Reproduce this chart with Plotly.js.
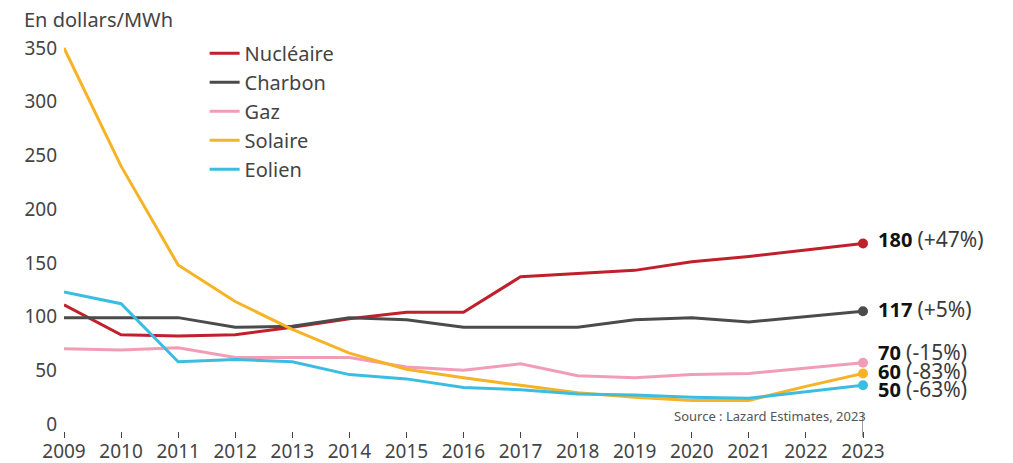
<!DOCTYPE html>
<html><head><meta charset="utf-8">
<script src="https://cdn.plot.ly/plotly-3.0.1.min.js"></script>
<style>html,body{margin:0;padding:0;background:#fff}#chart{width:1013px;height:463px}</style>
</head><body><div id="chart"></div>
<script>
const years = [2009,2010,2011,2012,2013,2014,2015,2016,2017,2018,2019,2020,2021,2022,2023];
const nucleaire = [111,83,82,83,90,98,104,104,137,140,143,151,156,162,168];
const charbon   = [99,99,99,90,91,99,97,90,90,90,97,99,95,100,105];
const gaz       = [70,69,71,62,62,62,53,50,56,45,43,46,47,52,57];
const solaire   = [350,240,148,114,88,66,51,43,36,29,25,22,22,35,47];
const eolien    = [123,112,58,60,58,46,42,34,32,28,27,25,24,30,36];
const seriesNames = ['Nucléaire','Charbon','Gaz','Solaire','Eolien'];
const endValues  = ['180','117','70','60','50'];
const endChanges = ['(+47%)','(+5%)','(-15%)','(-83%)','(-63%)'];

const colors = ['#c01f2b','#4b4b4b','#f29db6','#f6b325','#3bbde2'];
const labelShift = [5,2,11,3,-4];
const data = [nucleaire,charbon,gaz,solaire,eolien];
const traces = [];
data.forEach((ys,i)=>{
  traces.push({x:years,y:ys,type:'scatter',mode:'lines',name:seriesNames[i],
    line:{color:colors[i],width:3},hoverinfo:'skip'});
});
data.forEach((ys,i)=>{
  traces.push({x:[years[years.length-1]],y:[ys[ys.length-1]],type:'scatter',mode:'markers',
    showlegend:false,cliponaxis:false,marker:{color:colors[i],size:10},hoverinfo:'skip'});
});
const annotations = data.map((ys,i)=>({
  x:years[years.length-1], y:ys[ys.length-1], xref:'x', yref:'y',
  xanchor:'left', yanchor:'middle', xshift:13, yshift:labelShift[i], showarrow:false,
  text:'<b><span style="color:#111">'+endValues[i]+'</span></b> <span style="color:#3a3a3a;font-size:21px">'+endChanges[i]+'</span>',
  font:{family:'Noto Sans',size:20,color:'#333'}
}));
annotations.push({x:0,y:1,xref:'paper',yref:'paper',xanchor:'left',yanchor:'middle',
  text:'En dollars/MWh',showarrow:false,font:{family:'Noto Sans',size:20,color:'#444'},
  xshift:-42,yshift:21});
annotations.push({x:years[years.length-1],y:7.4,xref:'x',yref:'y',xanchor:'right',yanchor:'middle',
  text:'Source : Lazard Estimates, 2023',showarrow:false,xshift:5,
  font:{family:'Noto Sans',size:13,color:'#555'}});

const layout = {
  width:1013,height:463,margin:{l:64,r:150,t:40,b:32},
  paper_bgcolor:'#fff',plot_bgcolor:'#fff',showlegend:true,
  font:{family:'Noto Sans',size:20,color:'#444'},
  xaxis:{range:[2009,2023],tickvals:years,ticktext:years.map(String),ticks:'outside',ticklen:6,
    tickcolor:'#444',tickwidth:1,showgrid:false,zeroline:false,showline:false,ticklabelstandoff:-3,
    tickfont:{family:'Noto Sans',size:19,color:'#444'}},
  yaxis:{range:[-6.5,357.4],tickvals:[0,50,100,150,200,250,300,350],showgrid:false,zeroline:false,
    showline:false,ticks:'',ticklabelstandoff:6,tickfont:{family:'Noto Sans',size:19,color:'#444'}},
  shapes:[{type:'line',xref:'x',yref:'paper',x0:2023,x1:2023,y0:-0.015,y1:0.045,
    line:{color:'#444',width:1}}],
  legend:{x:0.176,y:1.016,xanchor:'left',yanchor:'top',bgcolor:'rgba(0,0,0,0)',
    font:{family:'Noto Sans',size:20,color:'#444'},tracegroupgap:0,itemwidth:30},
  annotations:annotations
};
Plotly.newPlot('chart',traces,layout,{displayModeBar:false,staticPlot:true});
</script></body></html>
